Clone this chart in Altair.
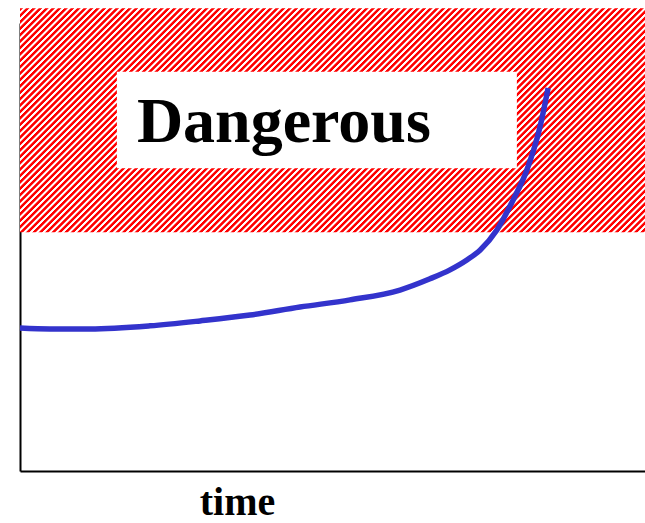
import altair as alt
import pandas as pd

# Curve data (time vs. level, arbitrary units)
time_vals = [0, 4.8, 11.2, 20.8, 28.8, 36.8, 44.8, 52.8, 60.8, 65.6, 68.8, 71.5, 73.6, 76.3, 78.9, 81.1, 83.2, 84.5]
level_vals = [31.9, 31.7, 31.7, 32.4, 33.5, 34.8, 36.6, 38.2, 40.4, 42.9, 44.9, 47.1, 49.3, 53.8, 60.5, 67.2, 76.8, 85.5]

# Danger zone bounds
zone_x = [0, 100]
zone_y = [53.3, 103.3]

# Label box and label
box_x = [15.5, 79.5]
box_y = [67.6, 89.1]
label_text = ["Dangerous"]
label_x = [18.7]
label_y = [73.4]

W, H = 625, 448
ZW, ZH = 625, 224  # pixel size of hatched zone (for gradient geometry)

curve = pd.DataFrame({"time": time_vals, "level": level_vals})
zone = pd.DataFrame({"x": [zone_x[0]], "x2": [zone_x[1]], "y": [zone_y[0]], "y2": [zone_y[1]]})
box = pd.DataFrame({"x": [box_x[0]], "x2": [box_x[1]], "y": [box_y[0]], "y2": [box_y[1]]})
label = pd.DataFrame({"t": label_text, "x": label_x, "y": label_y})

xscale = alt.Scale(domain=[0, 100], nice=False, zero=False)
yscale = alt.Scale(domain=[0, 100], nice=False, zero=False)

xaxis = alt.Axis(
    domain=True, domainColor="black", domainWidth=2, ticks=False, labels=False, grid=False,
    title="time", titleFont="Liberation Serif", titleFontSize=40, titleFontWeight="bold",
    titleColor="black", titleX=217, titleY=43, titleAlign="center", titleBaseline="alphabetic",
)
yaxis = alt.Axis(domain=True, domainColor="black", domainWidth=2, ticks=False, labels=False,
                 grid=False, title=None)

# Diagonal hatch via repeating linear gradient stops
k = (ZW + ZH) / (ZW ** 2 + ZH ** 2)
period_px = 6.4
nper = (ZW + ZH) / period_px
step = 1.0 / nper
stops = []
i = 0
while i * step <= 1.0:
    base = i * step
    for frac, col in [(0.0, "#ff0000"), (0.4, "#ff0000"), (0.55, "#ffffff"), (0.85, "#ffffff")]:
        off = base + frac * step
        if off <= 1.0:
            stops.append({"offset": round(off, 5), "color": col})
    i += 1
gradient = {"gradient": "linear", "x1": 0, "y1": 0, "x2": k * ZW, "y2": k * ZH, "stops": stops}

zone_layer = alt.Chart(zone).mark_rect(fill=gradient, clip=False).encode(
    x=alt.X("x:Q", scale=xscale, axis=xaxis), x2="x2:Q",
    y=alt.Y("y:Q", scale=yscale, axis=yaxis), y2="y2:Q",
)

box_layer = alt.Chart(box).mark_rect(fill="white").encode(
    x=alt.X("x:Q", scale=xscale, axis=xaxis), x2="x2:Q",
    y=alt.Y("y:Q", scale=yscale, axis=yaxis), y2="y2:Q",
)

text_layer = alt.Chart(label).mark_text(
    font="Liberation Serif", fontSize=64, fontWeight="bold", color="black",
    align="left", baseline="alphabetic",
).encode(
    x=alt.X("x:Q", scale=xscale, axis=xaxis),
    y=alt.Y("y:Q", scale=yscale, axis=yaxis),
    text="t:N",
)

line_layer = alt.Chart(curve).mark_line(
    color="#3333cc", strokeWidth=5.5, interpolate="monotone", strokeCap="butt", clip=False
).encode(
    x=alt.X("time:Q", scale=xscale, axis=xaxis),
    y=alt.Y("level:Q", scale=yscale, axis=yaxis),
)

chart = alt.layer(zone_layer, box_layer, text_layer, line_layer).properties(
    width=W, height=H,
    autosize=alt.AutoSizeParams(type="none"),
    padding={"left": 20, "top": 23, "right": 0, "bottom": 52},
    background="white",
).configure_view(stroke=None)

chart.save("out.html", embed_options={"renderer": "svg", "actions": False})
